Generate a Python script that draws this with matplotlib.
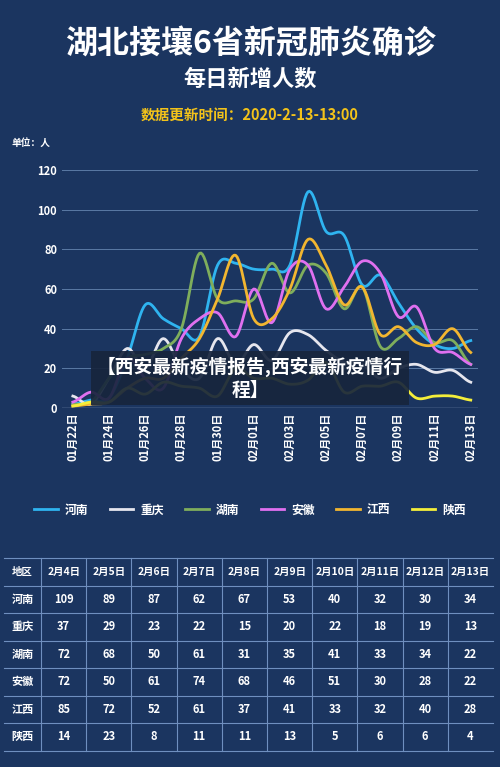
import matplotlib.pyplot as plt
import numpy as np

plt.rcParams['font.family'] = ['Noto Sans CJK SC', 'DejaVu Sans']

BG = '#1b3560'

provinces = ['河南', '重庆', '湖南', '安徽', '江西', '陕西']
colors = ['#2fb4f0', '#e6e6ee', '#7fae5c', '#e070f0', '#f2b630', '#f4ee3a']

# daily new cases 01-22 .. 02-13 (first 13, the rest from the table)
henan = [2, 4, 5, 25, 52, 45, 40, 36, 72, 73, 70, 70, 72, 109, 89, 87, 62, 67, 53, 40, 32, 30, 34]
chongqing = [6, 2, 15, 30, 20, 35, 20, 15, 35, 22, 32, 24, 38, 37, 29, 23, 22, 15, 20, 22, 18, 19, 13]
hunan = [2, 3, 15, 25, 27, 30, 40, 78, 55, 54, 55, 73, 58, 72, 68, 50, 61, 31, 35, 41, 33, 34, 22]
anhui = [3, 8, 5, 25, 15, 10, 35, 45, 48, 36, 60, 43, 70, 72, 50, 61, 74, 68, 46, 51, 30, 28, 22]
jiangxi = [1, 2, 3, 10, 15, 15, 25, 35, 55, 77, 45, 45, 60, 85, 72, 52, 61, 37, 41, 33, 32, 40, 28]
shaanxi = [1, 3, 3, 10, 7, 13, 11, 10, 6, 20, 15, 15, 12, 14, 23, 8, 11, 11, 13, 5, 6, 6, 4]
series = [henan, chongqing, hunan, anhui, jiangxi, shaanxi]

days = ['01月%02d日' % d for d in range(22, 32)] + ['02月%02d日' % d for d in range(1, 14)]

table_dates = ['2月%d日' % d for d in range(4, 14)]


def smooth(y, n=12):
    # catmull-rom spline through the points, only for drawing
    y = np.asarray(y, float)
    p = np.concatenate([[y[0]], y, [y[-1]]])
    xs, ys = [], []
    for i in range(len(y) - 1):
        t = np.linspace(0, 1, n, endpoint=False)
        p0, p1, p2, p3 = p[i], p[i + 1], p[i + 2], p[i + 3]
        v = 0.5 * ((2 * p1) + (-p0 + p2) * t + (2 * p0 - 5 * p1 + 4 * p2 - p3) * t ** 2
                   + (-p0 + 3 * p1 - 3 * p2 + p3) * t ** 3)
        xs.extend(i + t)
        ys.extend(v)
    xs.append(len(y) - 1)
    ys.append(y[-1])
    return np.array(xs), np.array(ys)


fig = plt.figure(figsize=(5, 7.67), dpi=100, facecolor=BG)
H = 767

fig.text(0.5, 1 - 45 / H, '湖北接壤6省新冠肺炎确诊', color='white', fontsize=23, fontweight='black', ha='center', va='center')
fig.text(0.5, 1 - 79 / H, '每日新增人数', color='white', fontsize=16, fontweight='black', ha='center', va='center')
fig.text(0.5, 1 - 115 / H, '数据更新时间：2020-2-13-13:00', color='#f2c21a', fontsize=10.5, fontweight='bold', ha='center', va='center')
fig.text(12 / 500, 1 - 143 / H, '单位：人', color='white', fontsize=7, fontweight='bold', va='center')

ax = fig.add_axes([62 / 500, 1 - 408 / H, 416 / 500, 238 / H])
ax.set_facecolor(BG)
for name, c, s in zip(provinces, colors, series):
    xs, ys = smooth(s)
    ax.plot(xs, ys, color=c, lw=2, label=name)
ax.set_ylim(0, 120)
ax.set_xlim(-0.6, 22.4)
ax.set_yticks(range(0, 121, 20))
ax.grid(axis='y', color='#5a7aa5', lw=0.7)
ax.set_xticks(range(0, 23, 2))
ax.set_xticklabels(days[::2], rotation=90, color='white', fontsize=8, fontweight='bold')
ax.tick_params(axis='y', colors='white', labelsize=8, length=0)
ax.tick_params(axis='x', length=0)
for t in ax.get_yticklabels():
    t.set_fontweight('bold')
for sp in ax.spines.values():
    sp.set_visible(False)
ax.axhline(0, color='#8aa0c0', lw=1)

leg = fig.legend(loc='center', bbox_to_anchor=(0.5, 1 - 510 / H), ncol=6, frameon=False,
                 fontsize=8.5, handlelength=2.0, columnspacing=1.8, handletextpad=0.6)
for t in leg.get_texts():
    t.set_color('white')
    t.set_fontweight('bold')

# banner overlay
fig.text(0.5, 1 - 378 / H, '【西安最新疫情报告,西安最新疫情行\n程】', color='white', fontsize=13.5,
         fontweight='black', ha='center', va='center', linespacing=1.25,
         bbox=dict(boxstyle='square,pad=0.3', fc='#17253d', ec='none', alpha=0.92))

# table
tab = [henan[13:], chongqing[13:], hunan[13:], anhui[13:], jiangxi[13:], shaanxi[13:]]
tx = fig.add_axes([0, 0, 1, 1])
tx.set_xlim(0, 500)
tx.set_ylim(H, 0)
tx.axis('off')
top, rh = 558, 27.5
col_x = [4, 41] + [41 + 45.2 * i for i in range(1, 11)]
nrows = 7
for r in range(nrows + 1):
    tx.plot([4, 493], [top + r * rh] * 2, color='#6f8fbf', lw=0.8)
for cx in col_x[1:-1]:
    tx.plot([cx, cx], [top, top + nrows * rh], color='#6f8fbf', lw=0.8)
header = ['地区'] + table_dates
rows = [header] + [[p] + [str(v) for v in vals] for p, vals in zip(provinces, tab)]
for r, row in enumerate(rows):
    for c, val in enumerate(row):
        xc = (col_x[c] + col_x[c + 1]) / 2
        tx.text(xc, top + (r + 0.5) * rh, val, color='white', fontsize=7.5 if r == 0 else 8,
                fontweight='bold', ha='center', va='center')

fig.savefig('out.png', dpi=100, facecolor=BG)
